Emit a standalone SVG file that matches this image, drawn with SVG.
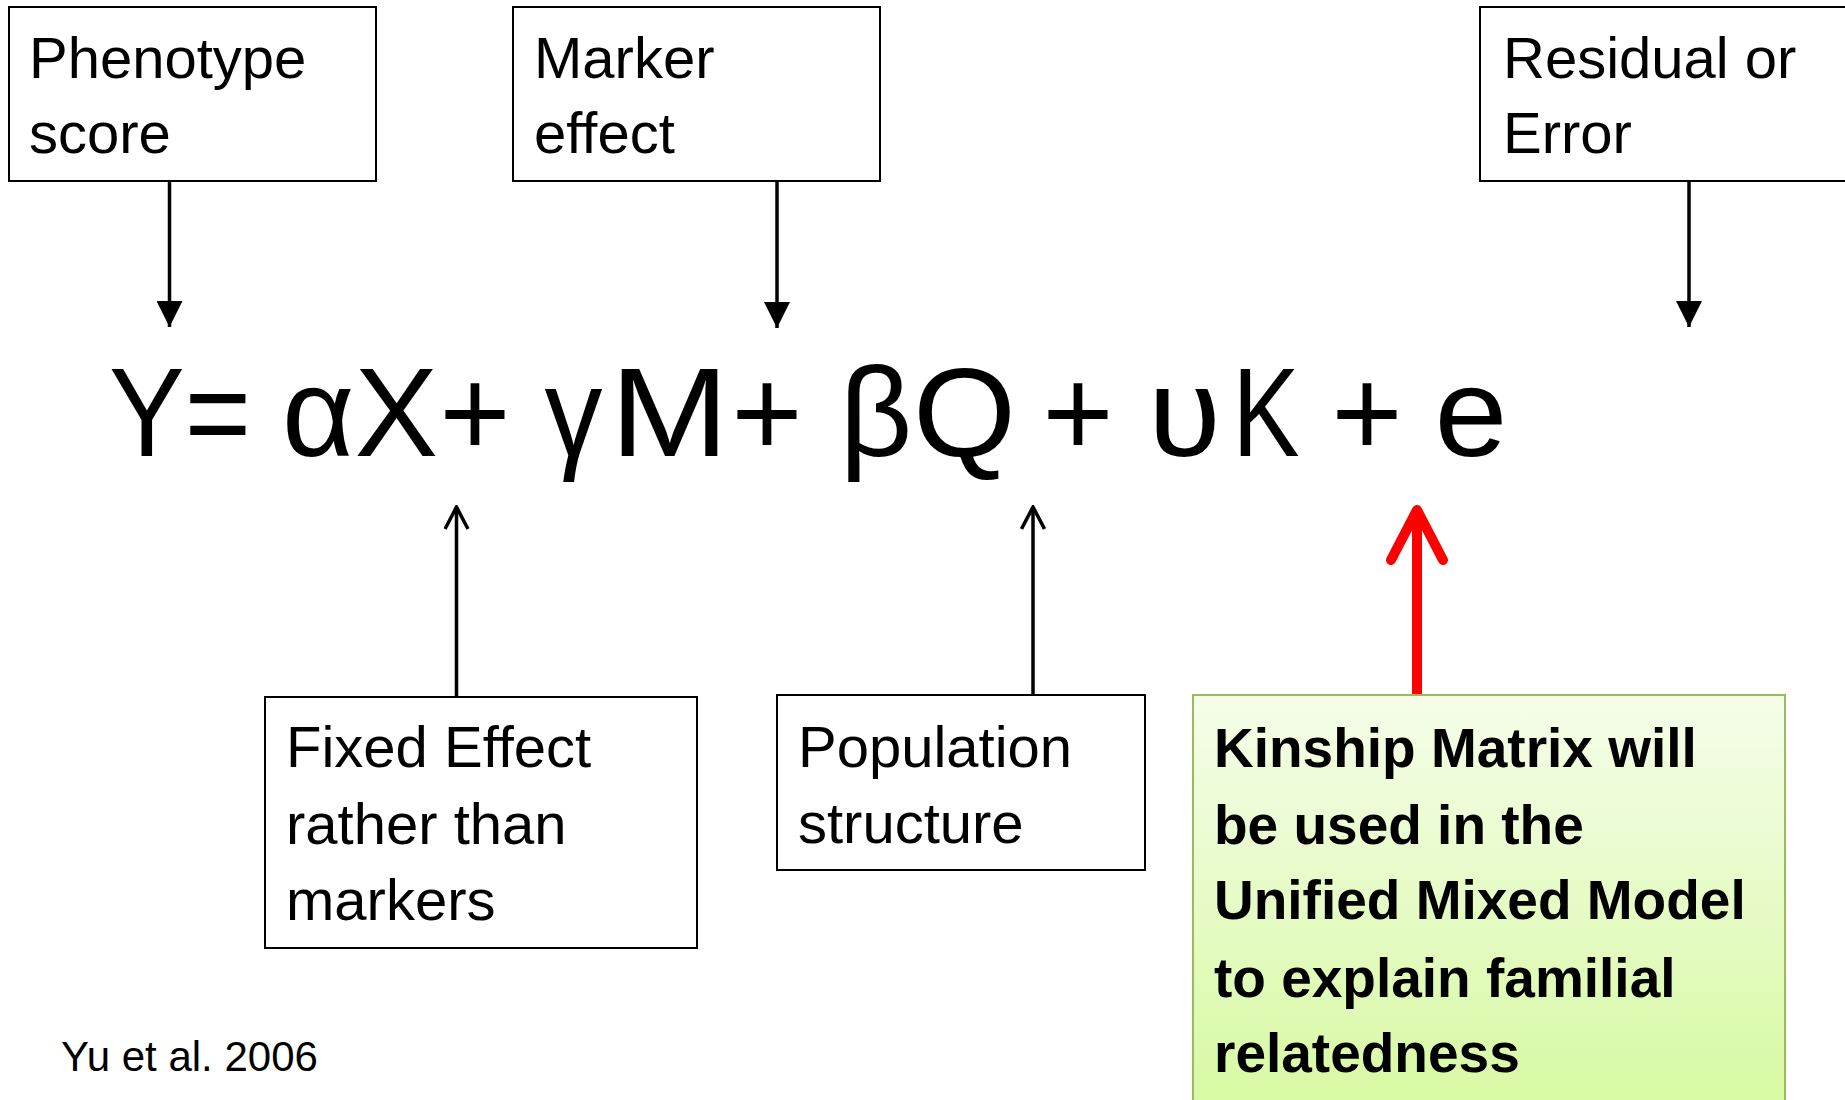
<svg xmlns="http://www.w3.org/2000/svg" width="1845" height="1100" viewBox="0 0 1845 1100">
  <style>
    .box { fill: #ffffff; stroke: #000000; stroke-width: 2; }
    .lbl { font-family: "Liberation Sans", Arial, sans-serif; font-size: 58px; fill: #000000; }
    .bold { font-family: "Liberation Sans", Arial, sans-serif; font-size: 55px; font-weight: bold; fill: #000000; }
    .eq { font-family: "Liberation Sans", Arial, sans-serif; font-size: 127px; fill: #000000; }
    .cite { font-family: "Liberation Sans", Arial, sans-serif; font-size: 42px; fill: #000000; }
    .conn { stroke: #000000; stroke-width: 3.5; fill: none; }
  </style>
  <defs>
    <marker id="tri" markerUnits="userSpaceOnUse" markerWidth="26" markerHeight="26" viewBox="0 0 26 26" refX="26" refY="13" orient="auto">
      <path d="M0,0 L26,13 L0,26 Z" fill="#000000"/>
    </marker>
    <marker id="open" markerUnits="userSpaceOnUse" markerWidth="26" markerHeight="26" viewBox="0 0 26 26" refX="24" refY="13" orient="auto">
      <path d="M2,1.5 L24,13 L2,24.5" fill="none" stroke="#000000" stroke-width="3.5"/>
    </marker>
    <linearGradient id="green" x1="0" y1="0" x2="0" y2="1">
      <stop offset="0" stop-color="#f5fde9"/>
      <stop offset="1" stop-color="#d6f9a0"/>
    </linearGradient>
  </defs>
  <rect width="1845" height="1100" fill="#ffffff"/>

  <g id="connectors">
    <line class="conn" x1="169.5" y1="181" x2="169.5" y2="327" marker-end="url(#tri)"/>
    <line class="conn" x1="777" y1="181" x2="777" y2="328" marker-end="url(#tri)"/>
    <line class="conn" x1="1689" y1="181" x2="1689" y2="327" marker-end="url(#tri)"/>
    <line class="conn" x1="456.5" y1="697" x2="456.5" y2="507" marker-end="url(#open)"/>
    <line class="conn" x1="1033" y1="695" x2="1033" y2="507" marker-end="url(#open)"/>
    <g id="red-arrow" stroke="#ff0000" stroke-width="10" fill="none" stroke-linecap="round" stroke-linejoin="round">
      <line x1="1417" y1="695" x2="1417" y2="512" stroke-linecap="butt"/>
      <path d="M1391,560 L1417,510 L1443,560"/>
    </g>
  </g>

  <g id="phenotype">
    <rect class="box" x="9" y="7" width="367" height="174"/>
    <text class="lbl" x="29" y="78">Phenotype</text>
    <text class="lbl" x="29" y="153">score</text>
  </g>
  <g id="marker">
    <rect class="box" x="513" y="7" width="367" height="174"/>
    <text class="lbl" x="534" y="78">Marker</text>
    <text class="lbl" x="534" y="153">effect</text>
  </g>
  <g id="residual">
    <rect class="box" x="1480" y="7" width="380" height="174"/>
    <text class="lbl" x="1503" y="78">Residual or</text>
    <text class="lbl" x="1503" y="153">Error</text>
  </g>

  <g id="equation">
    <text class="eq" y="456"><tspan x="109" textLength="142" lengthAdjust="spacingAndGlyphs">Y=</tspan><tspan x="282" textLength="156" lengthAdjust="spacingAndGlyphs">αX</tspan><tspan x="439.5" textLength="71" lengthAdjust="spacingAndGlyphs">+</tspan><tspan x="544.5" textLength="58" lengthAdjust="spacingAndGlyphs">γ</tspan><tspan x="610" textLength="119" lengthAdjust="spacingAndGlyphs">M</tspan><tspan x="731.5" textLength="71" lengthAdjust="spacingAndGlyphs">+</tspan><tspan x="839.5" textLength="73" lengthAdjust="spacingAndGlyphs">β</tspan><tspan x="913" textLength="103" lengthAdjust="spacingAndGlyphs">Q</tspan><tspan x="1042.5" textLength="71" lengthAdjust="spacingAndGlyphs">+</tspan><tspan x="1148" textLength="73" lengthAdjust="spacingAndGlyphs">υ</tspan><tspan x="1232.5" textLength="67" lengthAdjust="spacingAndGlyphs">K</tspan><tspan x="1331.5" textLength="71" lengthAdjust="spacingAndGlyphs">+</tspan><tspan x="1434.5" textLength="73" lengthAdjust="spacingAndGlyphs">e</tspan></text>
  </g>

  <g id="fixed-effect">
    <rect class="box" x="265" y="697" width="432" height="251"/>
    <text class="lbl" x="286" y="767">Fixed Effect</text>
    <text class="lbl" x="286" y="844">rather than</text>
    <text class="lbl" x="286" y="920">markers</text>
  </g>
  <g id="population">
    <rect class="box" x="777" y="695" width="368" height="175"/>
    <text class="lbl" x="798" y="767">Population</text>
    <text class="lbl" x="798" y="843">structure</text>
  </g>
  <g id="kinship">
    <rect x="1193" y="695" width="592" height="430" fill="url(#green)" stroke="#9bbb59" stroke-width="2"/>
    <text class="bold" x="1214" y="767">Kinship Matrix will</text>
    <text class="bold" x="1214" y="844">be used in the</text>
    <text class="bold" x="1214" y="919">Unified Mixed Model</text>
    <text class="bold" x="1214" y="997">to explain familial</text>
    <text class="bold" x="1214" y="1072">relatedness</text>
  </g>
  <g id="citation">
    <text class="cite" x="61" y="1071">Yu et al. 2006</text>
  </g>
</svg>
